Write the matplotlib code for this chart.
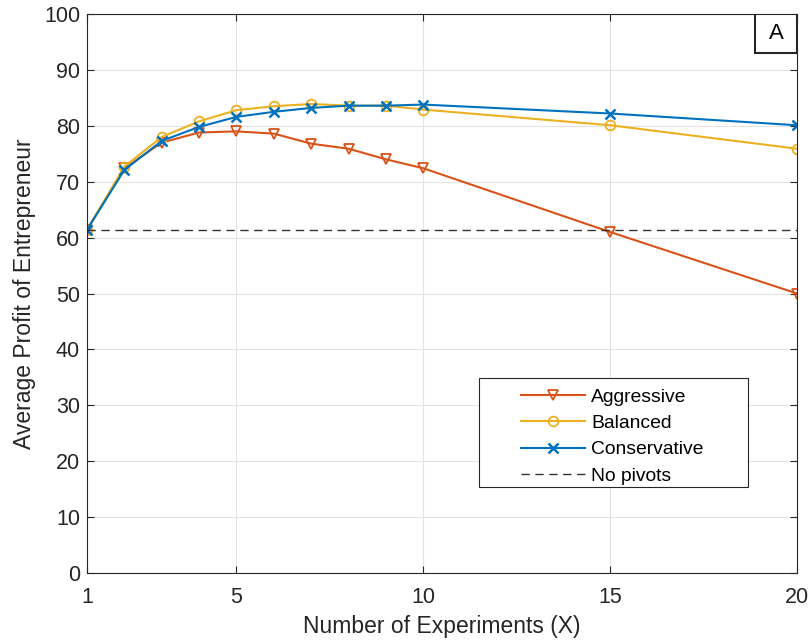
import matplotlib
matplotlib.use('Agg')
import matplotlib.pyplot as plt
from matplotlib.patches import Rectangle

plt.rcParams['font.family'] = ['Liberation Sans', 'DejaVu Sans']

experiments = [1, 2, 3, 4, 5, 6, 7, 8, 9, 10, 15, 20]
aggressive = [61.4, 72.4, 77.0, 78.8, 79.0, 78.6, 76.8, 75.9, 74.0, 72.4, 61.0, 50.0]
balanced = [61.4, 72.7, 78.0, 80.8, 82.8, 83.5, 83.9, 83.6, 83.6, 82.9, 80.1, 75.9]
conservative = [61.4, 72.1, 77.3, 79.8, 81.6, 82.5, 83.2, 83.6, 83.6, 83.8, 82.2, 80.1]
no_pivots = 61.4

fig = plt.figure(figsize=(8.11, 6.42), dpi=100)
ax = fig.add_axes([87 / 811, (642 - 573) / 642, 710 / 811, 559 / 642])

ax.plot(experiments, aggressive, '-v', color='#D95319', lw=1.5, markersize=7,
        markerfacecolor='none', markeredgewidth=1.3, label='Aggressive')
ax.plot(experiments, balanced, '-o', color='#EDB120', lw=1.5, markersize=7,
        markerfacecolor='none', markeredgewidth=1.3, label='Balanced')
ax.plot(experiments, conservative, '-x', color='#0072BD', lw=1.5, markersize=7,
        markeredgewidth=1.8, label='Conservative')
ax.axhline(no_pivots, color='#333333', ls='--', lw=1.0, dashes=(6, 4), label='No pivots')

ax.set_xlim(1, 20)
ax.set_ylim(0, 100)
ax.set_xticks([1, 5, 10, 15, 20])
ax.set_yticks(range(0, 101, 10))
ax.grid(True, color='#e3e3e3', lw=0.8)
ax.set_axisbelow(True)
ax.tick_params(direction='in', labelsize=15.5, colors='#262626', length=5,
               top=True, right=True, labelcolor='#262626')
ax.tick_params(axis='x', pad=10)
ax.tick_params(axis='y', pad=5)
for s in ax.spines.values():
    s.set_color('#262626')
    s.set_linewidth(0.8)

ax.set_xlabel('Number of Experiments (X)', fontsize=16.5, color='#262626', labelpad=5)
ax.set_ylabel('Average Profit of Entrepreneur', fontsize=16.5, color='#262626', labelpad=6)

# legend frame drawn separately to get MATLAB-like padding
x0, y0 = (479 - 87) / 710, (573 - 487) / 559
w, h = (748 - 479) / 710, (487 - 378) / 559
ax.add_patch(Rectangle((x0, y0), w, h, transform=ax.transAxes, facecolor='white',
                       edgecolor='#262626', lw=0.8, zorder=4))
leg = ax.legend(loc='upper left', bbox_to_anchor=((521 - 87) / 710, (573 - 388) / 559),
                fontsize=13.9, frameon=False, handlelength=3.3, borderpad=0,
                borderaxespad=0, labelspacing=0.46, handletextpad=0.35)
leg.set_zorder(5)

ax.add_patch(Rectangle((0.941, 0.930), 0.059, 0.070, transform=ax.transAxes,
                       facecolor='white', edgecolor='#262626', lw=1.5, zorder=4))
ax.text(0.9705, 0.965, 'A', transform=ax.transAxes, fontsize=16, ha='center',
        va='center', color='black', zorder=5)

fig.savefig('out.png', dpi=100)
